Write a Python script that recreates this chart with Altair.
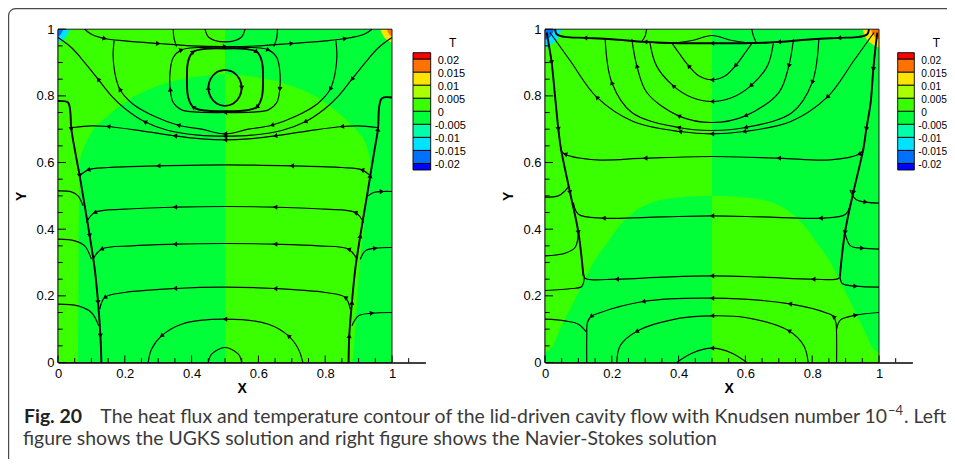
import math
import altair as alt
import pandas as pd

# ---------------- temperature colour levels (legend, top -> bottom) ----------------
T_BANDS = ["b0", "b1", "b2", "b3", "b4", "b5", "b6", "b7", "b8", "b9"]
T_COLORS = ["#ff0000", "#ff7100", "#ffe300", "#aaff00", "#39ff00",
            "#00ff39", "#00ffaa", "#00e3ff", "#0071ff", "#0000ff"]
T_LABELS = ["0.02", "0.015", "0.01", "0.005", "0", "-0.005", "-0.01", "-0.015", "-0.02"]
PANELS = ["L", "R"]  # L = UGKS, R = Navier-Stokes

# ---------------- filled contour regions ----------------
# base halves: (panel, band, x0, x1)
BASE = [("L", "b4", 0.0, 0.5), ("L", "b5", 0.5, 1.0),
        ("R", "b4", 0.0, 0.5), ("R", "b5", 0.5, 1.0)]

# UGKS dome (sign-reversed zone)
UGKS_DOME_L_X = [0.06, 0.065, 0.08, 0.1, 0.15, 0.2, 0.3, 0.4, 0.5]
UGKS_DOME_L_T = [0.02, 0.6, 0.65, 0.69, 0.74, 0.78, 0.83, 0.855, 0.865]
UGKS_DOME_L_B = [0, 0, 0, 0, 0, 0, 0, 0, 0]
UGKS_DOME_R_X = [0.5, 0.6, 0.7, 0.8, 0.85, 0.88, 0.9, 0.93, 0.935]
UGKS_DOME_R_T = [0.865, 0.855, 0.83, 0.78, 0.74, 0.71, 0.69, 0.63, 0.6]
UGKS_DOME_R_B = [0, 0, 0, 0, 0, 0, 0.25, 0.55, 0.6]

# Navier-Stokes dome
NS_DOME_L_X = [0.0, 0.02, 0.045, 0.07, 0.095, 0.12, 0.145, 0.18, 0.215, 0.265, 0.32, 0.4, 0.5]
NS_DOME_L_T = [0.03, 0.045, 0.1, 0.15, 0.2, 0.25, 0.3, 0.35, 0.4, 0.45, 0.48, 0.495, 0.5]
NS_DOME_R_X = [0.5, 0.6, 0.68, 0.735, 0.785, 0.82, 0.855, 0.88, 0.905, 0.93, 0.955, 0.98, 1.0]
NS_DOME_R_T = [0.5, 0.495, 0.48, 0.45, 0.4, 0.35, 0.3, 0.25, 0.2, 0.15, 0.1, 0.045, 0.03]

# hot / cold corner patches (top corners): x, lower edge
UGKS_TL_OUT_X = [0.0, 0.012, 0.025, 0.035]
UGKS_TL_OUT_B = [0.96, 0.966, 0.978, 1.0]
UGKS_TL_IN_X = [0.0, 0.008, 0.016]
UGKS_TL_IN_B = [0.978, 0.984, 1.0]
UGKS_TR_OUT_X = [0.965, 0.975, 0.988, 1.0]
UGKS_TR_OUT_B = [1.0, 0.978, 0.966, 0.96]
UGKS_TR_IN_X = [0.984, 0.992, 1.0]
UGKS_TR_IN_B = [1.0, 0.984, 0.978]
NS_TL_OUT_X = [0.0, 0.02, 0.04, 0.05]
NS_TL_OUT_B = [0.945, 0.955, 0.975, 1.0]
NS_TL_IN_X = [0.0, 0.015, 0.028]
NS_TL_IN_B = [0.968, 0.976, 1.0]
NS_TR_OUT_X = [0.95, 0.96, 0.98, 1.0]
NS_TR_OUT_B = [1.0, 0.975, 0.955, 0.945]
NS_TR_IN_X = [0.975, 0.986, 1.0]
NS_TR_IN_B = [1.0, 0.978, 0.97]

REGIONS = [
    ("L", "dl", "b5", UGKS_DOME_L_X, UGKS_DOME_L_T, UGKS_DOME_L_B),
    ("L", "dr", "b4", UGKS_DOME_R_X, UGKS_DOME_R_T, UGKS_DOME_R_B),
    ("R", "dl", "b5", NS_DOME_L_X, NS_DOME_L_T, None),
    ("R", "dr", "b4", NS_DOME_R_X, NS_DOME_R_T, None),
]
CORNERS = [
    ("L", "tlo", "b7", UGKS_TL_OUT_X, UGKS_TL_OUT_B), ("L", "tli", "b8", UGKS_TL_IN_X, UGKS_TL_IN_B),
    ("L", "tro", "b2", UGKS_TR_OUT_X, UGKS_TR_OUT_B), ("L", "tri", "b1", UGKS_TR_IN_X, UGKS_TR_IN_B),
    ("R", "tlo", "b7", NS_TL_OUT_X, NS_TL_OUT_B), ("R", "tli", "b8", NS_TL_IN_X, NS_TL_IN_B),
    ("R", "tro", "b2", NS_TR_OUT_X, NS_TR_OUT_B), ("R", "tri", "b1", NS_TR_IN_X, NS_TR_IN_B),
]

# ---------------- heat-flux lines ----------------
UGKS_LINES = {
    "top": [(0.08, 1.0), (0.1, 0.985), (0.14, 0.972), (0.2, 0.965), (0.3, 0.957), (0.4, 0.95), (0.5, 0.948),
            (0.6, 0.95), (0.7, 0.957), (0.8, 0.965), (0.86, 0.972), (0.915, 0.984), (0.94, 1.0)],
    "arc1": [(0.0, 0.975), (0.04, 0.945), (0.08, 0.9), (0.12, 0.85), (0.16, 0.8), (0.2, 0.762), (0.26, 0.722),
             (0.33, 0.696), (0.42, 0.682), (0.5, 0.679), (0.58, 0.682), (0.67, 0.696), (0.74, 0.722),
             (0.8, 0.762), (0.84, 0.8), (0.88, 0.85), (0.92, 0.9), (0.96, 0.945), (1.0, 0.975)],
    "arc2": [(0.168, 0.966), (0.165, 0.92), (0.17, 0.87), (0.185, 0.82), (0.225, 0.775), (0.29, 0.738),
             (0.36, 0.712), (0.43, 0.7), (0.5, 0.686), (0.57, 0.7), (0.64, 0.712), (0.71, 0.738),
             (0.775, 0.775), (0.815, 0.82), (0.83, 0.87), (0.835, 0.92), (0.832, 0.966)],
    "h67": [(0.045, 0.705), (0.1, 0.71), (0.15, 0.708), (0.25, 0.695), (0.35, 0.68), (0.43, 0.671),
            (0.5, 0.668), (0.57, 0.671), (0.65, 0.68), (0.75, 0.695), (0.85, 0.708), (0.9, 0.71), (0.955, 0.705)],
    "loopo": [(0.5, 0.946), (0.58, 0.945), (0.63, 0.938), (0.655, 0.915), (0.664, 0.875), (0.664, 0.82),
              (0.655, 0.78), (0.63, 0.758), (0.58, 0.751), (0.5, 0.75), (0.42, 0.751), (0.37, 0.758),
              (0.345, 0.78), (0.336, 0.82), (0.336, 0.875), (0.345, 0.915), (0.37, 0.938), (0.42, 0.945),
              (0.5, 0.946)],
    "loopm": [(0.5, 0.942), (0.56, 0.941), (0.595, 0.932), (0.61, 0.905), (0.614, 0.85), (0.61, 0.795),
              (0.595, 0.766), (0.56, 0.756), (0.5, 0.754), (0.44, 0.756), (0.405, 0.766), (0.39, 0.795),
              (0.386, 0.85), (0.39, 0.905), (0.405, 0.932), (0.44, 0.941), (0.5, 0.942)],
    "loopi": [(0.5, 0.878), (0.525, 0.871), (0.543, 0.851), (0.55, 0.824), (0.543, 0.797), (0.525, 0.777),
              (0.5, 0.77), (0.475, 0.777), (0.457, 0.797), (0.45, 0.824), (0.457, 0.851), (0.475, 0.871),
              (0.5, 0.878)],
    "t1": [(0.345, 1.0), (0.347, 0.975), (0.355, 0.948)],
    "t2": [(0.657, 1.0), (0.655, 0.975), (0.646, 0.948)],
    "t3": [(0.44, 1.0), (0.452, 0.975), (0.5, 0.962), (0.548, 0.975), (0.56, 1.0)],
    "sepl": [(0.0, 0.785), (0.03, 0.78), (0.036, 0.76), (0.04, 0.7), (0.05, 0.64), (0.065, 0.56),
             (0.08, 0.47), (0.095, 0.38), (0.11, 0.28), (0.12, 0.18), (0.127, 0.08), (0.13, 0.0)],
    "sepr": [(1.0, 0.795), (0.97, 0.793), (0.962, 0.77), (0.958, 0.7), (0.948, 0.64), (0.935, 0.56),
             (0.92, 0.47), (0.905, 0.38), (0.89, 0.28), (0.88, 0.18), (0.872, 0.08), (0.87, 0.0)],
    "h59": [(0.065, 0.56), (0.09, 0.578), (0.15, 0.585), (0.3, 0.59), (0.5, 0.593), (0.7, 0.59),
            (0.85, 0.585), (0.91, 0.578), (0.935, 0.56)],
    "h47": [(0.085, 0.42), (0.11, 0.45), (0.2, 0.46), (0.35, 0.466), (0.5, 0.468), (0.65, 0.466),
            (0.8, 0.46), (0.89, 0.45), (0.915, 0.42)],
    "h35": [(0.105, 0.31), (0.13, 0.34), (0.22, 0.35), (0.35, 0.355), (0.5, 0.357), (0.65, 0.355),
            (0.78, 0.35), (0.87, 0.34), (0.895, 0.31)],
    "h22": [(0.125, 0.16), (0.14, 0.195), (0.2, 0.21), (0.35, 0.222), (0.5, 0.226), (0.65, 0.222),
            (0.8, 0.21), (0.86, 0.195), (0.875, 0.16)],
    "b1": [(0.27, 0.0), (0.28, 0.04), (0.31, 0.08), (0.37, 0.115), (0.5, 0.13), (0.63, 0.115),
           (0.69, 0.08), (0.72, 0.04), (0.733, 0.0)],
    "b2": [(0.45, 0.0), (0.46, 0.025), (0.5, 0.045), (0.54, 0.025), (0.55, 0.0)],
    "wl1": [(0.0, 0.515), (0.04, 0.512), (0.06, 0.5), (0.075, 0.47)],
    "wl2": [(0.0, 0.37), (0.05, 0.365), (0.08, 0.35), (0.1, 0.31)],
    "wl3": [(0.0, 0.175), (0.06, 0.17), (0.1, 0.15), (0.122, 0.11)],
    "wr1": [(0.928, 0.5), (0.945, 0.51), (0.97, 0.513), (1.0, 0.513)],
    "wr2": [(0.905, 0.31), (0.92, 0.335), (0.95, 0.343), (1.0, 0.345)],
    "wr3": [(0.88, 0.11), (0.9, 0.14), (0.94, 0.148), (1.0, 0.15)],
}

NS_LINES = {
    "top": [(0.03, 1.0), (0.035, 0.985), (0.06, 0.977), (0.12, 0.974), (0.2, 0.97), (0.3, 0.962),
            (0.4, 0.958), (0.5, 0.958), (0.6, 0.958), (0.7, 0.962), (0.8, 0.97), (0.88, 0.974),
            (0.94, 0.977), (0.965, 0.985), (0.97, 1.0)],
    "bump": [(0.3, 0.962), (0.38, 0.958), (0.44, 0.966), (0.5, 0.981), (0.56, 0.966), (0.62, 0.958), (0.7, 0.962)],
    "t1": [(0.304, 1.0), (0.3, 0.98), (0.29, 0.963)],
    "t2": [(0.619, 1.0), (0.624, 0.98), (0.632, 0.961)],
    "ua": [(0.38, 0.958), (0.4, 0.93), (0.43, 0.89), (0.46, 0.86), (0.5, 0.848), (0.54, 0.86),
           (0.57, 0.89), (0.6, 0.93), (0.62, 0.958)],
    "ub": [(0.314, 0.96), (0.334, 0.89), (0.384, 0.83), (0.44, 0.795), (0.5, 0.783), (0.56, 0.795),
           (0.616, 0.83), (0.666, 0.89), (0.684, 0.96)],
    "uc": [(0.26, 0.97), (0.275, 0.89), (0.305, 0.81), (0.4, 0.74), (0.5, 0.72), (0.6, 0.74),
           (0.7, 0.81), (0.73, 0.89), (0.744, 0.97)],
    "ud": [(0.18, 0.972), (0.2, 0.84), (0.26, 0.75), (0.4, 0.705), (0.5, 0.696), (0.6, 0.705),
           (0.74, 0.75), (0.8, 0.84), (0.82, 0.972)],
    "ue": [(0.015, 0.99), (0.075, 0.906), (0.155, 0.796), (0.264, 0.723), (0.404, 0.693), (0.5, 0.686),
           (0.596, 0.693), (0.736, 0.723), (0.845, 0.796), (0.925, 0.906), (0.985, 0.99)],
    "h62": [(0.045, 0.64), (0.06, 0.625), (0.155, 0.608), (0.3, 0.613), (0.5, 0.618), (0.7, 0.613),
            (0.853, 0.608), (0.94, 0.625), (0.955, 0.64)],
    "h44": [(0.085, 0.48), (0.1, 0.445), (0.175, 0.433), (0.35, 0.437), (0.5, 0.44), (0.65, 0.437),
            (0.825, 0.433), (0.9, 0.445), (0.915, 0.48)],
    "h26": [(0.115, 0.27), (0.12, 0.253), (0.215, 0.25), (0.35, 0.256), (0.5, 0.26), (0.65, 0.256),
            (0.803, 0.25), (0.88, 0.253), (0.885, 0.27)],
    "h19": [(0.125, 0.0), (0.125, 0.08), (0.127, 0.12), (0.138, 0.138), (0.16, 0.148), (0.294, 0.183),
            (0.5, 0.193), (0.733, 0.176), (0.845, 0.148), (0.864, 0.138), (0.871, 0.12), (0.873, 0.08), (0.873, 0.0)],
    "b1": [(0.215, 0.0), (0.225, 0.05), (0.274, 0.093), (0.404, 0.133), (0.5, 0.14), (0.6, 0.135),
           (0.73, 0.095), (0.775, 0.05), (0.788, 0.0)],
    "b2": [(0.394, 0.0), (0.44, 0.028), (0.5, 0.043), (0.56, 0.028), (0.604, 0.0)],
    "sepl": [(0.005, 0.99), (0.012, 0.95), (0.02, 0.9), (0.03, 0.8), (0.04, 0.7), (0.048, 0.64),
             (0.075, 0.51), (0.1, 0.39), (0.115, 0.26)],
    "sepr": [(0.995, 0.99), (0.99, 0.95), (0.983, 0.88), (0.975, 0.78), (0.962, 0.7), (0.953, 0.64),
             (0.923, 0.51), (0.898, 0.39), (0.883, 0.26)],
    "wl1": [(0.0, 0.496), (0.04, 0.5), (0.06, 0.515), (0.072, 0.53)],
    "wl2": [(0.0, 0.32), (0.06, 0.328), (0.09, 0.345), (0.1, 0.39)],
    "wl3": [(0.0, 0.216), (0.08, 0.222), (0.11, 0.228), (0.118, 0.26)],
    "wl4": [(0.0, 0.13), (0.06, 0.125), (0.1, 0.115), (0.125, 0.09)],
    "wr1": [(0.913, 0.518), (0.93, 0.49), (0.96, 0.481), (1.0, 0.478)],
    "wr2": [(0.898, 0.39), (0.915, 0.35), (0.95, 0.343), (1.0, 0.34)],
    "wr3": [(0.883, 0.26), (0.89, 0.237), (0.93, 0.229), (1.0, 0.226)],
    "wr4": [(0.873, 0.1), (0.885, 0.128), (0.93, 0.142), (1.0, 0.15)],
}
LINES = {"L": UGKS_LINES, "R": NS_LINES}

# arrow heads: line -> (direction along point order, vertex indices)
UGKS_ARROWS = {
    "top": (1, [2, 4, 6, 8, 10]), "arc1": (-1, [3, 6, 9, 12, 15]), "arc2": (-1, [3, 6, 8, 10, 13]),
    "h67": (-1, [2, 4, 6, 8, 10]), "loopo": (1, [2, 5, 9, 13, 16]), "loopm": (1, [2, 6, 10, 14]),
    "loopi": (1, [3, 9]), "sepl": (1, [3, 5, 7, 9, 10]), "sepr": (-1, [3, 5, 7, 9, 10]),
    "h59": (-1, [1, 3, 5, 7]), "h47": (-1, [1, 3, 5, 7]), "h35": (-1, [1, 3, 5, 7]),
    "h22": (-1, [1, 3, 5, 7]), "b1": (-1, [2, 4, 6]),
    "wr1": (1, [2]), "wr2": (1, [2]), "wr3": (1, [2]),
}
NS_ARROWS = {
    "top": (-1, [3, 5, 7, 9, 11]), "ua": (-1, [2, 4, 6]), "ub": (-1, [2, 4, 6]),
    "uc": (-1, [1, 3, 5, 7]), "ud": (-1, [1, 3, 5, 7]), "ue": (-1, [2, 4, 5, 6, 8]),
    "h62": (-1, [1, 3, 5, 7]), "h44": (-1, [2, 4, 6]), "h26": (-1, [2, 4, 6]),
    "h19": (-1, [3, 5, 6, 7, 9]), "b1": (-1, [2, 4, 6]), "b2": (-1, [2]),
    "sepl": (1, [2, 4, 6, 7]), "sepr": (1, [2, 4, 6, 7]),
    "wr1": (1, [2]), "wr2": (1, [2]), "wr3": (1, [2]), "wr4": (1, [2]),
}
ARROWS = {"L": UGKS_ARROWS, "R": NS_ARROWS}
THICK = {"L": ["loopm", "loopi", "sepl", "sepr"], "R": ["top", "sepl", "sepr"]}

# axis ticks
X_MAJOR = [0, 0.2, 0.4, 0.6, 0.8, 1.0]
X_MINOR = [0.05, 0.1, 0.15, 0.25, 0.3, 0.35, 0.45, 0.5, 0.55, 0.65, 0.7, 0.75, 0.85, 0.9, 0.95, 1.05]
Y_MAJOR = [0, 0.2, 0.4, 0.6, 0.8, 1.0]
Y_MINOR = [0.05, 0.1, 0.15, 0.25, 0.3, 0.35, 0.45, 0.5, 0.55, 0.65, 0.7, 0.75, 0.85, 0.9, 0.95]

# caption
CAPTION_LABEL = "Fig. 20"
CAPTION_LINE1 = "The heat flux and temperature contour of the lid-driven cavity flow with Knudsen number 10"
CAPTION_SUP = "\u22124"
CAPTION_LINE1_END = ". Left"
CAPTION_LINE2 = "figure shows the UGKS solution and right figure shows the Navier-Stokes solution"

# ---------------- layout (pixels) ----------------
W, H = 939, 451
PANEL_X = {"L": [50.0, 417.4], "R": [537.0, 904.4]}
PANEL_Y = [354.5, 21.2]
LEG_X = {"L": [405.0, 422.7], "R": [889.7, 906.3]}
LEG_Y = [44.7, 162.0]
LEG_FONT = {"L": 11, "R": 10.2}
AX_FONT = "Liberation Sans"
CAP_FONT = "Lato"
CAP_SIZE = 19.4

# ---------------- tables ----------------
base_df = pd.DataFrame([dict(panel=p, band=b, x0=a, x1=c, y0=0.0, y1=1.0) for p, b, a, c in BASE])

reg_rows = []
for p, rid, band, xs_, ts, bs in REGIONS:
    for i, xv in enumerate(xs_):
        reg_rows.append(dict(panel=p, rid=rid, band=band, x=xv, yt=ts[i], yb=(bs[i] if bs else 0.0)))
reg_df = pd.DataFrame(reg_rows)

cor_rows = []
for p, rid, band, xs_, bs in CORNERS:
    for i, xv in enumerate(xs_):
        cor_rows.append(dict(panel=p, rid=rid, band=band, x=xv, yt=1.0, yb=bs[i]))
cor_df = pd.DataFrame(cor_rows)

line_rows, arrow_rows = [], []
for p in PANELS:
    for name, pts in LINES[p].items():
        w = 1.9 if name in THICK[p] else 1.15
        for i, (xv, yv) in enumerate(pts):
            line_rows.append(dict(panel=p, lid=name, i=i, x=xv, y=yv, w=w))
        if name in ARROWS[p]:
            d, idxs = ARROWS[p][name]
            for k in idxs:
                a = pts[max(k - 1, 0)]
                b = pts[min(k + 1, len(pts) - 1)]
                dx, dy = (b[0] - a[0]) * d, (b[1] - a[1]) * d
                ang = math.degrees(math.atan2(-dy * 333.0, dx * 334.0)) % 360
                arrow_rows.append(dict(panel=p, x=pts[k][0], y=pts[k][1], a=ang))
line_df = pd.DataFrame(line_rows)
arrow_df = pd.DataFrame(arrow_rows)

xt_df = pd.DataFrame([dict(v=v, y0=0.0, y1=0.021) for v in X_MAJOR] +
                     [dict(v=v, y0=0.0, y1=0.013) for v in X_MINOR])
yt_df = pd.DataFrame([dict(v=v, x0=0.0, x1=0.024) for v in Y_MAJOR] +
                     [dict(v=v, x0=0.0, x1=0.014) for v in Y_MINOR])
frame_df = pd.DataFrame([dict(x0=0.0, x1=1.0, y0=0.0, y1=1.0)])

leg_df = pd.DataFrame([dict(a=0.0, b=1.0, top=max(i - 1, -0.5), bot=min(i, 8.5), col=T_COLORS[i])
                       for i in range(len(T_BANDS))])
lab_df = pd.DataFrame([dict(one=1.0, k=k, t=t, neg=t.startswith("-")) for k, t in enumerate(T_LABELS)])
ttl_df = pd.DataFrame([dict(one=1.0, k=-0.5, t="T")])

color = alt.Color("band:N", scale=alt.Scale(domain=T_BANDS, range=T_COLORS), legend=None)


def panel_chart(p):
    xs = alt.Scale(domain=[0, 1.1], range=PANEL_X[p], nice=False, zero=False)
    ys = alt.Scale(domain=[0, 1], range=PANEL_Y, nice=False, zero=False)
    xax = alt.Axis(values=X_MAJOR, format="~g", orient="bottom", offset=-(H - PANEL_Y[0]),
                   ticks=False, tickSize=0, grid=False, domainColor="black", domainWidth=1.7,
                   labelFont=AX_FONT, labelFontSize=13, labelColor="black", labelPadding=5,
                   labelFlush=False, title="X", titleFont=AX_FONT, titleFontSize=14,
                   titleFontWeight="bold", titleColor="black", titlePadding=1)
    yax = alt.Axis(values=Y_MAJOR, format="~g", orient="left", offset=-PANEL_X[p][0],
                   ticks=False, tickSize=0, grid=False, domainColor="black", domainWidth=1.7,
                   labelFont=AX_FONT, labelFontSize=13, labelColor="black", labelPadding=4,
                   labelFlush=False, title="Y", titleFont=AX_FONT, titleFontSize=14,
                   titleFontWeight="bold", titleColor="black", titlePadding=7)

    def X(f):
        return alt.X(f"{f}:Q", scale=xs, axis=xax)

    def Y(f):
        return alt.Y(f"{f}:Q", scale=ys, axis=yax, stack=None)

    base = alt.Chart(base_df[base_df.panel == p]).mark_rect().encode(
        x=X("x0"), x2="x1:Q", y=Y("y0"), y2="y1:Q", color=color)
    dome = alt.Chart(reg_df[reg_df.panel == p]).mark_area(interpolate="monotone").encode(
        x=X("x"), y=Y("yt"), y2="yb:Q", color=color, detail="rid:N")
    corner = alt.Chart(cor_df[cor_df.panel == p]).mark_area(interpolate="monotone").encode(
        x=X("x"), y=Y("yt"), y2="yb:Q", color=color, detail="rid:N")
    frame = alt.Chart(frame_df).mark_rect(filled=False, color="#1a1a1a", strokeWidth=1).encode(
        x=X("x0"), x2="x1:Q", y=Y("y0"), y2="y1:Q")
    lines = alt.Chart(line_df[line_df.panel == p]).mark_line(
        interpolate="catmull-rom", color="black").encode(
        x=X("x"), y=Y("y"), detail="lid:N", order="i:Q",
        strokeWidth=alt.StrokeWidth("w:Q", scale=None))
    arrows = alt.Chart(arrow_df[arrow_df.panel == p]).mark_point(
        shape="triangle-right", filled=True, color="black", size=26, opacity=1).encode(
        x=X("x"), y=Y("y"), angle=alt.Angle("a:Q", scale=None))
    xt = alt.Chart(xt_df).mark_rule(color="black", strokeWidth=1).encode(
        x=X("v"), y=Y("y0"), y2="y1:Q")
    yt = alt.Chart(yt_df).mark_rule(color="black", strokeWidth=1).encode(
        y=Y("v"), x=X("x0"), x2="x1:Q")
    return alt.layer(base, dome, corner, frame, lines, arrows, xt, yt)


def legend_chart(p):
    lx = alt.Scale(domain=[0, 1], range=LEG_X[p], nice=False, zero=False)
    ly = alt.Scale(domain=[-0.5, 8.5], range=LEG_Y, nice=False, zero=False)
    boxes = alt.Chart(leg_df).mark_rect(stroke="black", strokeWidth=0.9).encode(
        x=alt.X("a:Q", scale=lx, axis=None), x2="b:Q",
        y=alt.Y("top:Q", scale=ly, axis=None), y2="bot:Q",
        color=alt.Color("col:N", scale=None))
    pos = alt.Chart(lab_df).transform_filter("!datum.neg").mark_text(
        align="left", baseline="middle", dx=7, dy=1.5,
        font=AX_FONT, fontSize=LEG_FONT[p], color="black").encode(
        x=alt.X("one:Q", scale=lx, axis=None), y=alt.Y("k:Q", scale=ly, axis=None), text="t:N")
    neg = alt.Chart(lab_df).transform_filter("datum.neg").mark_text(
        align="left", baseline="middle", dx=4, dy=1.5,
        font=AX_FONT, fontSize=LEG_FONT[p], color="black").encode(
        x=alt.X("one:Q", scale=lx, axis=None), y=alt.Y("k:Q", scale=ly, axis=None), text="t:N")
    title = alt.Chart(ttl_df).mark_text(align="center", baseline="middle", dx=22, dy=-10,
                                        font=AX_FONT, fontSize=12, color="black").encode(
        x=alt.X("one:Q", scale=lx, axis=None), y=alt.Y("k:Q", scale=ly, axis=None), text="t:N")
    return alt.layer(boxes, pos, neg, title)


def cap_text(txt, x, y, **kw):
    return alt.Chart(alt.Data(values=[{"t": txt}])).mark_text(
        baseline="alphabetic", font=CAP_FONT, **kw).encode(
        x=alt.value(x), y=alt.value(y), text="t:N")


caption = alt.layer(
    cap_text(CAPTION_LABEL, 16, 415, align="left", fontSize=CAP_SIZE, fontWeight="bold", color="#222222"),
    cap_text(CAPTION_LINE1, 879, 415, align="right", fontSize=CAP_SIZE, color="#3a3a3a"),
    cap_text(CAPTION_SUP, 880, 406.5, align="left", fontSize=13, color="#3a3a3a"),
    cap_text(CAPTION_LINE1_END, 896, 415, align="left", fontSize=CAP_SIZE, color="#3a3a3a"),
    cap_text(CAPTION_LINE2, 15, 437, align="left", fontSize=CAP_SIZE, color="#3a3a3a"),
)

border = alt.Chart(alt.Data(values=[{"k": 1}])).mark_rect(
    filled=False, color="#4a4a4a", strokeWidth=1.2, cornerRadius=7).encode(
    x=alt.value(0.6), x2=alt.value(1400), y=alt.value(0.6), y2=alt.value(1400))

chart = alt.layer(
    panel_chart("L"), legend_chart("L"), panel_chart("R"), legend_chart("R"), caption, border
).resolve_scale(x="independent", y="independent", color="independent").properties(
    width=W, height=H, padding=0, background="white",
    autosize=alt.AutoSizeParams(type="none"),
).configure_view(stroke="transparent")

chart.save("out.html", embed_options={"renderer": "svg", "actions": False})
